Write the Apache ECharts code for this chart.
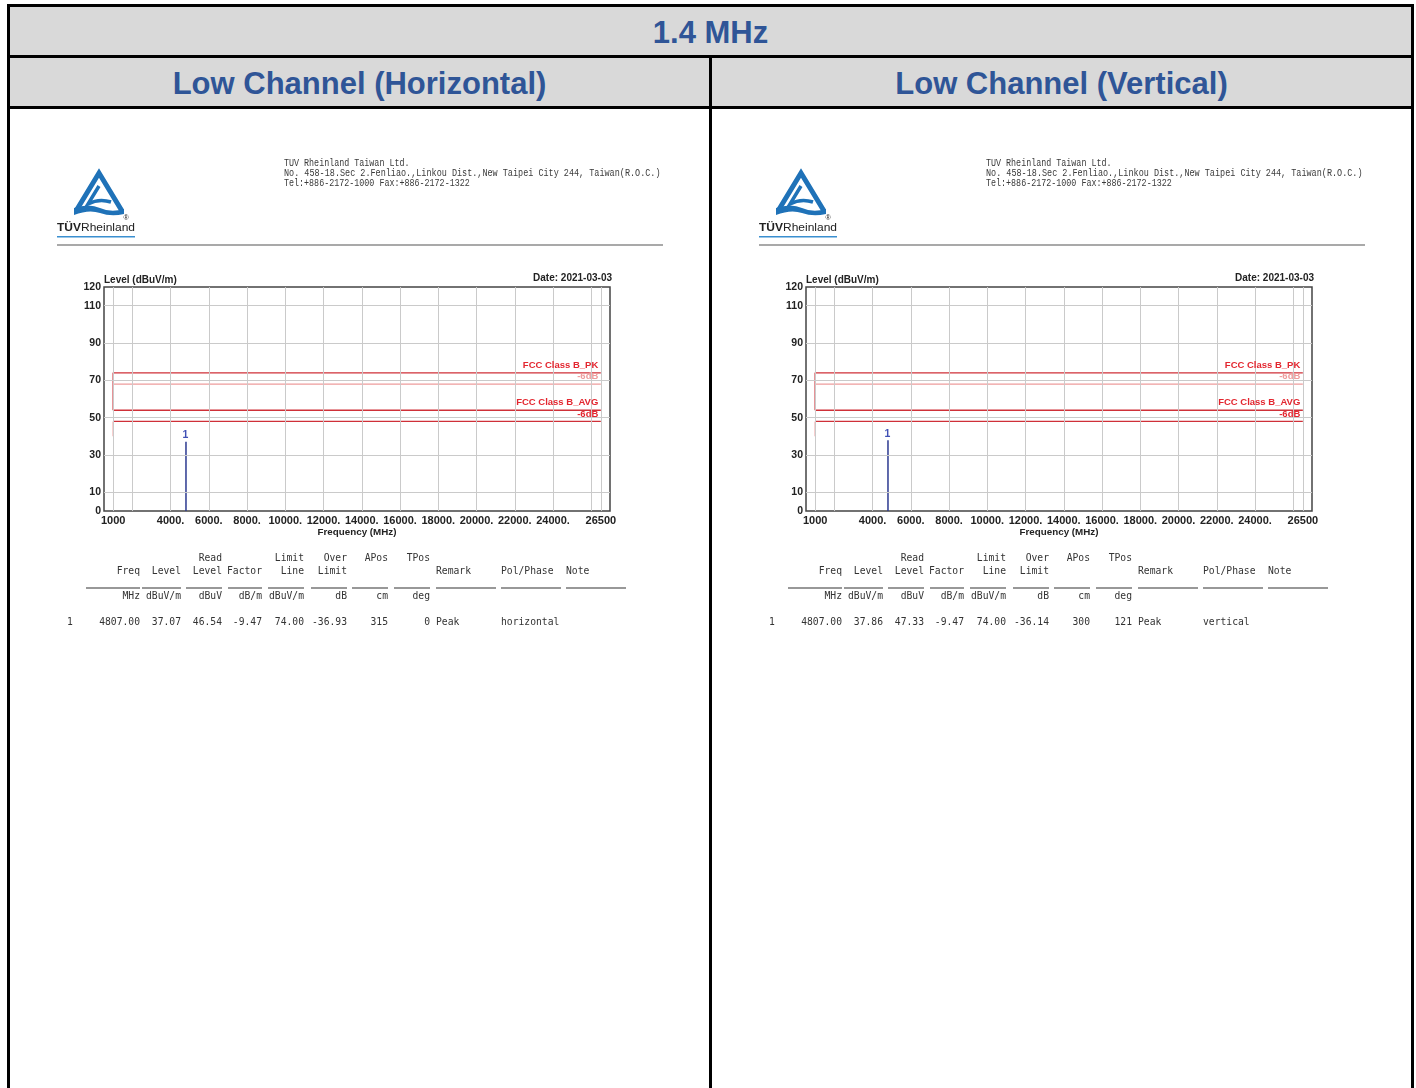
<!DOCTYPE html>
<html>
<head>
<meta charset="utf-8">
<title>1.4 MHz - Low Channel</title>
<script src="https://cdn.jsdelivr.net/npm/echarts@6/dist/echarts.min.js"></script>
<style>
  html, body { margin: 0; padding: 0; background: #fff; }
  #page { position: relative; width: 1416px; height: 1088px; overflow: hidden; background: #fff; font-family: "Liberation Sans", Arial, sans-serif; }
  #chart { position: absolute; left: 0; top: 0; width: 1416px; height: 1088px; }
  #deco { position: absolute; left: 0; top: 0; pointer-events: none; }
  .rule { position: absolute; background: #000; }
  .hdr { position: absolute; background: #d9d9d9; color: #2f5597; font-weight: bold; font-size: 31px; text-align: center; }
</style>
</head>
<body>
<div id="page">
  <div id="chart"></div>
  <svg id="deco" width="1416" height="1088" xmlns="http://www.w3.org/2000/svg"></svg>
</div>
<script>
// ---- data ----
const bandTitle = '1.4 MHz';
const panelTitles = ['Low Channel (Horizontal)', 'Low Channel (Vertical)'];
const testDate = ['2021-03-03', '2021-03-03'];

const xLabelValues = [1000, 4000, 6000, 8000, 10000, 12000, 14000, 16000, 18000, 20000, 22000, 24000, 26500];
const xGridValues = [1000, 2000, 4000, 6000, 8000, 10000, 12000, 14000, 16000, 18000, 20000, 22000, 24000, 26000, 26500];
const yLabelValues = [0, 10, 30, 50, 70, 90, 110, 120];
const yGridValues = [10, 30, 50, 70, 90, 110];

const limitStart = 1000;
const limitEnd = 26500;
const pkLimit = 74;
const pkMargin = 68;
const avgLimit = 54;
const avgMargin = 48;
const avgStepLow = 40;

// measured peak, one per panel
const markerNo = ['1', '1'];
const freq = [4807.00, 4807.00];
const level = [37.07, 37.86];
const readLevel = [46.54, 47.33];
const factor = [-9.47, -9.47];
const limitLine = [74.00, 74.00];
const overLimit = [-36.93, -36.14];
const aPos = [315, 300];
const tPos = [0, 121];
const remark = ['Peak', 'Peak'];
const polPhase = ['horizontal', 'vertical'];

const companyLines = [
  'TUV Rheinland Taiwan Ltd.',
  'No.  458-18.Sec 2.Fenliao.,Linkou Dist.,New Taipei City 244, Taiwan(R.O.C.)',
  'Tel:+886-2172-1000 Fax:+886-2172-1322'
];

// ---- page frame (table header) ----
const page = document.getElementById('page');
function box(cls, l, t, w, h, text) {
  const d = document.createElement('div');
  d.className = cls;
  Object.assign(d.style, { left: l + 'px', top: t + 'px', width: w + 'px', height: h + 'px', lineHeight: (h + 3) + 'px' });
  if (text) d.textContent = text;
  page.appendChild(d);
}
box('hdr', 10, 7, 1401, 48, bandTitle);
box('hdr', 10, 58, 699, 48, panelTitles[0]);
box('hdr', 712, 58, 699, 48, panelTitles[1]);
box('rule', 7, 4, 1407, 3);
box('rule', 7, 55, 1407, 3);
box('rule', 7, 106, 1407, 3);
box('rule', 7, 4, 3, 1084);
box('rule', 1411, 4, 3, 1084);
box('rule', 709, 55, 3, 1033);

// ---- report decoration: logo, address, result table ----
const svg = document.getElementById('deco');
const NS = 'http://www.w3.org/2000/svg';
function el(tag, attrs, text) {
  const e = document.createElementNS(NS, tag);
  for (const k in attrs) e.setAttribute(k, attrs[k]);
  if (text !== undefined) e.textContent = text;
  svg.appendChild(e);
  return e;
}
const mono = '"DejaVu Sans Mono", monospace';
const numRight = [140, 181, 222, 262, 304, 347, 388, 430];
const txtLeft = [436, 501, 566];
const underlines = [[86, 140], [142, 181], [186, 222], [228, 262], [268, 304], [311, 347], [352, 388], [394, 430], [436, 496], [501, 561], [566, 626]];
const hdr1 = ['', '', 'Read', '', 'Limit', 'Over', 'APos', 'TPos'];
const hdr2 = ['Freq', 'Level', 'Level', 'Factor', 'Line', 'Limit', '', ''];
const units = ['MHz', 'dBuV/m', 'dBuV', 'dB/m', 'dBuV/m', 'dB', 'cm', 'deg'];

[0, 702].forEach((dx, i) => {
  // logo
  el('path', { d: `M${dx + 76},211 L${dx + 99},173 L${dx + 122},211`, fill: 'none', stroke: '#1f72b8', 'stroke-width': 5, 'stroke-linejoin': 'miter' });
  el('path', { d: `M${dx + 99},186 L${dx + 88},204 Q${dx + 99},198 ${dx + 111},202`, fill: 'none', stroke: '#1f72b8', 'stroke-width': 3.5 });
  el('path', { d: `M${dx + 74},208 Q${dx + 89},203 ${dx + 100},208 T${dx + 124},209 L${dx + 124},214 Q${dx + 111},217 ${dx + 100},213 T${dx + 74},215 Z`, fill: '#1f72b8' });
  const t = el('text', { x: dx + 57, y: 231, 'font-family': '"Liberation Sans", Arial', 'font-size': 11.5, fill: '#222', textLength: 78, lengthAdjust: 'spacingAndGlyphs' });
  const b = document.createElementNS(NS, 'tspan'); b.setAttribute('font-weight', 'bold'); b.textContent = 'TÜV'; t.appendChild(b);
  const r = document.createElementNS(NS, 'tspan'); r.textContent = 'Rheinland'; t.appendChild(r);
  el('text', { x: dx + 126, y: 220, 'font-family': '"Liberation Sans", Arial', 'font-size': 7, fill: '#222', 'text-anchor': 'middle' }, '®');
  el('rect', { x: dx + 57, y: 236, width: 78, height: 1.5, fill: '#3a8fd0' });

  // address (monospaced, about 5 px per character)
  companyLines.forEach((s, k) => {
    el('text', { x: dx + 284, y: 165.5 + k * 10.3, 'font-family': '"Liberation Mono", monospace', 'font-size': 10.5, fill: '#3a3a3a', textLength: s.length * 5.02, lengthAdjust: 'spacingAndGlyphs' }, s);
  });
  el('rect', { x: dx + 57, y: 244.5, width: 606, height: 1, fill: '#555' });

  // result table
  const txt = (x, y, s, anchor) => el('text', { x: dx + x, y, 'font-family': mono, 'font-size': 9.7, fill: '#333', 'text-anchor': anchor || 'start' }, s);
  numRight.forEach((x, c) => {
    if (hdr1[c]) txt(x, 560.5, hdr1[c], 'end');
    if (hdr2[c]) txt(x, 573.5, hdr2[c], 'end');
    txt(x, 598.5, units[c], 'end');
  });
  txt(txtLeft[0], 573.5, 'Remark');
  txt(txtLeft[1], 573.5, 'Pol/Phase');
  txt(txtLeft[2], 573.5, 'Note');
  underlines.forEach(([a, z]) => el('rect', { x: dx + a, y: 587.5, width: z - a, height: 1, fill: '#333' }));
  const row = [freq[i].toFixed(2), level[i].toFixed(2), readLevel[i].toFixed(2), factor[i].toFixed(2),
    limitLine[i].toFixed(2), overLimit[i].toFixed(2), String(aPos[i]), String(tPos[i])];
  txt(67, 624.5, markerNo[i]);
  row.forEach((s, c) => txt(numRight[c], 624.5, s, 'end'));
  txt(txtLeft[0], 624.5, remark[i]);
  txt(txtLeft[1], 624.5, polPhase[i]);
});

// ---- the two EMI plots ----
const font = '"Liberation Sans", Arial, sans-serif';
const dark = '#cf3038';
const light = '#ee9c9c';
const textRed = '#e3262f';
const grids = [], xAxes = [], yAxes = [], titles = [], series = [];
const smallBold = { fontSize: 10, fontWeight: 'bold', color: '#222', fontFamily: font };

function tagAt(x, y, text, color, dy) {
  return {
    coord: [x, y],
    label: { show: true, formatter: text, position: [-2, dy], align: 'right', verticalAlign: 'middle', color, fontSize: 9.5, fontWeight: 'bold', fontFamily: font }
  };
}

[0, 702].forEach((dx, i) => {
  grids.push({ left: 104 + dx, top: 287, width: 506, height: 224, show: true, borderColor: '#444', borderWidth: 1.5, backgroundColor: 'transparent' });
  xAxes.push({
    type: 'value', gridIndex: i, min: 520, max: 26980,
    axisLine: { show: false }, axisTick: { show: false }, splitLine: { show: false },
    axisLabel: {
      customValues: xLabelValues, margin: 4, fontSize: 11, fontWeight: 'bold', color: '#222', fontFamily: font,
      formatter: v => (v === 1000 || v === 26500) ? String(v) : v + '.'
    },
    name: 'Frequency (MHz)', nameLocation: 'middle', nameGap: 16,
    nameTextStyle: { fontSize: 9.8, fontWeight: 'bold', color: '#222', fontFamily: font }
  });
  yAxes.push({
    type: 'value', gridIndex: i, min: 0, max: 120,
    axisLine: { show: false }, axisTick: { show: false }, splitLine: { show: false },
    axisLabel: { customValues: yLabelValues, margin: 3, fontSize: 10.5, fontWeight: 'bold', color: '#222', fontFamily: font }
  });
  // y-axis caption and date sit just above the plot frame
  titles.push({ text: 'Level (dBuV/m)', left: 104 + dx, top: 275, padding: 0, textStyle: smallBold });
  titles.push({ text: 'Date: ' + testDate[i], right: 1416 - 612 - dx, top: 273, padding: 0, textStyle: smallBold });

  const ax = { xAxisIndex: i, yAxisIndex: i, type: 'line', symbol: 'none', silent: true };

  // grid lines
  series.push(Object.assign({}, ax, {
    z: 1, data: [],
    markLine: {
      silent: true, symbol: 'none', label: { show: false },
      lineStyle: { color: '#cacaca', width: 1, type: 'solid' },
      data: xGridValues.map(v => ({ xAxis: v })).concat(yGridValues.map(v => ({ yAxis: v })))
    }
  }));

  // limit lines
  series.push(Object.assign({}, ax, {
    z: 3, data: [[limitStart, avgLimit], [limitStart, pkLimit], [limitEnd, pkLimit]],
    lineStyle: { color: dark, width: 1.4 },
    markPoint: {
      symbol: 'rect', symbolSize: 1, itemStyle: { color: 'rgba(0,0,0,0)' }, silent: true,
      data: [tagAt(limitEnd, pkLimit, 'FCC Class B_PK', textRed, -7), tagAt(limitEnd, pkLimit, '-6dB', light, 4.5)]
    }
  }));
  series.push(Object.assign({}, ax, {
    z: 2, data: [[limitStart, pkMargin], [limitEnd, pkMargin]],
    lineStyle: { color: light, width: 1.3 }
  }));
  series.push(Object.assign({}, ax, {
    z: 3, data: [[limitStart, avgLimit], [limitEnd, avgLimit]],
    lineStyle: { color: dark, width: 1.4 },
    markPoint: {
      symbol: 'rect', symbolSize: 1, itemStyle: { color: 'rgba(0,0,0,0)' }, silent: true,
      data: [tagAt(limitEnd, avgLimit, 'FCC Class B_AVG', textRed, -7), tagAt(limitEnd, avgLimit, '-6dB', textRed, 4.5)]
    }
  }));
  series.push(Object.assign({}, ax, {
    z: 3, data: [[limitStart, avgMargin], [limitEnd, avgMargin]],
    lineStyle: { color: dark, width: 1.4 }
  }));
  series.push(Object.assign({}, ax, {
    z: 2, data: [[limitStart, avgStepLow], [limitStart, avgMargin]],
    lineStyle: { color: light, width: 1.3 }
  }));

  // measured peak
  series.push(Object.assign({}, ax, {
    z: 4, data: [[freq[i], 0], [freq[i], level[i]]],
    lineStyle: { color: '#2b3990', width: 1.5 },
    markPoint: {
      symbol: 'rect', symbolSize: 1, itemStyle: { color: 'rgba(0,0,0,0)' }, silent: true,
      data: [{
        coord: [freq[i], level[i]],
        label: { show: true, formatter: markerNo[i], position: [0, -6], align: 'center', verticalAlign: 'middle', color: '#4050b5', fontSize: 10.5, fontWeight: 'bold', fontFamily: font }
      }]
    }
  }));
});

const chart = echarts.init(document.getElementById('chart'), null, { renderer: 'canvas' });
chart.setOption({
  animation: false,
  backgroundColor: 'transparent',
  title: titles,
  grid: grids,
  xAxis: xAxes,
  yAxis: yAxes,
  series: series
});
</script>
</body>
</html>
